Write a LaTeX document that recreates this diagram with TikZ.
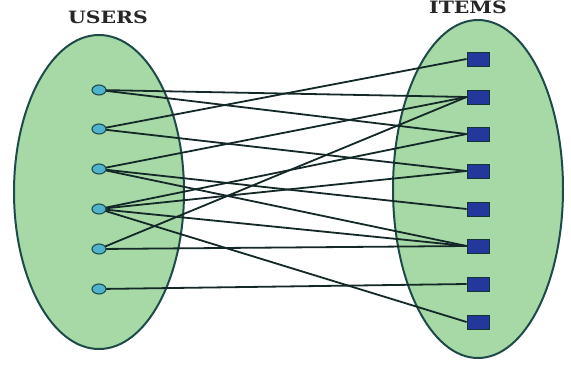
\documentclass[tikz,border=0pt]{standalone}
\usepackage{fontspec}
\setmainfont{DejaVu Serif}
\usetikzlibrary{shapes.geometric}
\definecolor{ellfill}{HTML}{A6D9A6}
\definecolor{ellline}{HTML}{1F4A4A}
\definecolor{userfill}{HTML}{4FB3CC}
\definecolor{itemfill}{HTML}{24389C}
\definecolor{edgecol}{HTML}{142828}
\tikzset{
  setell/.style={draw=ellline,fill=ellfill,line width=2pt},
  usernode/.style={ellipse,draw=ellline,fill=userfill,line width=1.1pt,minimum width=14pt,minimum height=10pt,inner sep=0pt},
  itemnode/.style={rectangle,draw=ellline!70!black,fill=itemfill,line width=0.8pt,minimum width=22pt,minimum height=14pt,inner sep=0pt},
  edge/.style={draw=edgecol,line width=1.8pt},
  title/.style={font=\bfseries\fontsize{17}{19}\selectfont,text=black!85,xscale=1.2,inner sep=0pt}
}
\begin{document}
\begin{tikzpicture}[x=1pt,y=-1pt]
\useasboundingbox (0,0) rectangle (571,365);
\fill[white] (0,0) rectangle (571,365);
\draw[setell] (99,192) ellipse [x radius=85, y radius=157];
\draw[setell] (478,189) ellipse [x radius=85, y radius=169];
\node[title] (lu) at (108,17) {USERS};
\node[title] (li) at (468,7) {ITEMS};
\foreach \i/\y in {1/90,2/129,3/169,4/209,5/249,6/289} {
  \coordinate (cu\i) at (99,\y);
}
\foreach \i/\y in {1/59,2/97,3/134,4/171,5/209,6/246,7/284,8/322} {
  \node[itemnode] (i\i) at (478,\y) {};
}
\foreach \u/\it in {1/2,1/3,2/1,2/4,3/2,3/5,3/6,4/3,4/4,4/6,4/8,5/2,5/6,6/7} {
  \draw[edge] (cu\u) -- (i\it.west);
}
\foreach \i in {1,...,6} {
  \node[usernode] (u\i) at (cu\i) {};
}
\foreach \i in {1,...,8} {
  \node[itemnode] at (i\i) {};
}
\end{tikzpicture}
\end{document}
